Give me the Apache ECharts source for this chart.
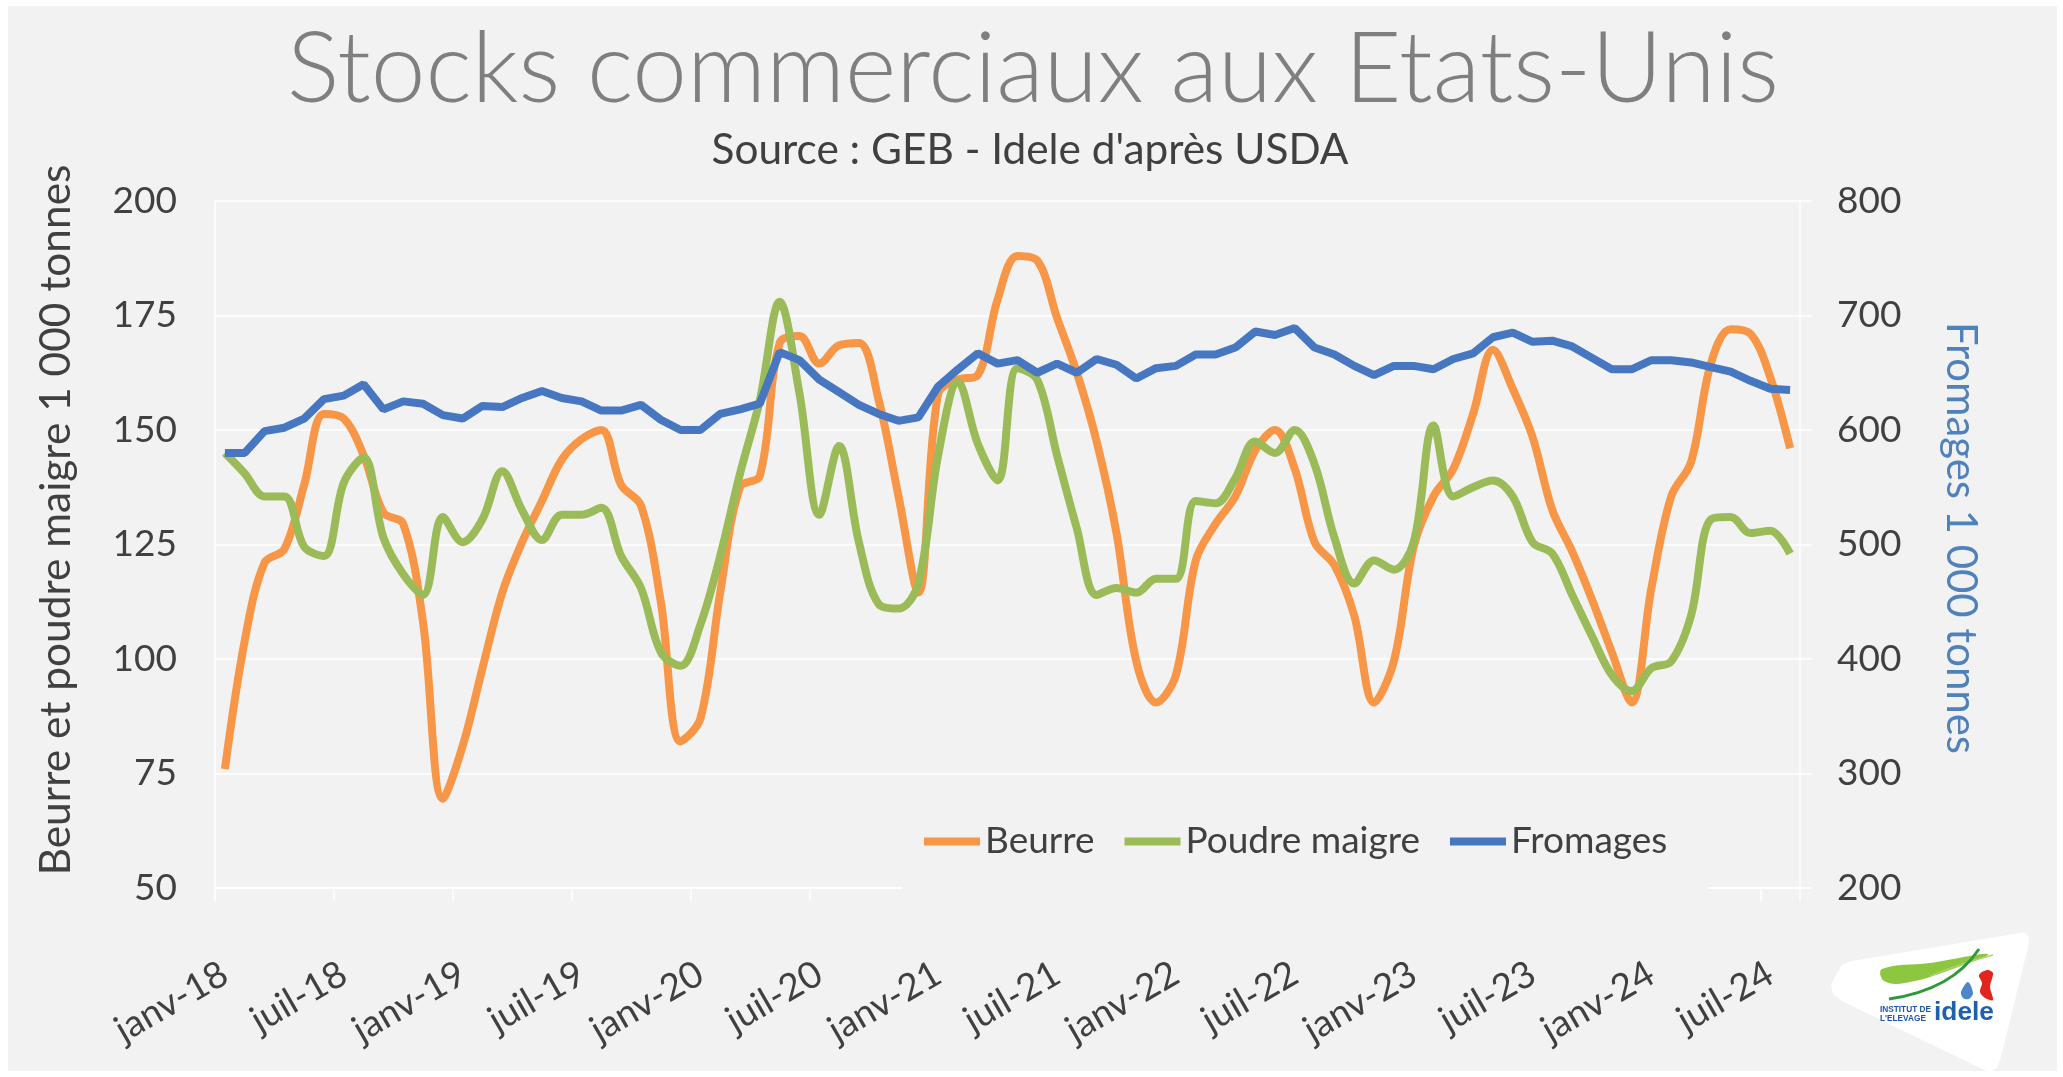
<!DOCTYPE html>
<html>
<head>
<meta charset="utf-8">
<title>Stocks commerciaux aux Etats-Unis</title>
<script src="https://cdn.jsdelivr.net/npm/echarts@6/dist/echarts.min.js"></script>
<style>
  html, body { margin: 0; padding: 0; background: #ffffff; overflow: hidden; }
  #frame { position: absolute; left: 8px; top: 6px; width: 2049px; height: 1065px; background: #f2f2f2; }
  #chart { position: absolute; left: 0; top: 0; width: 2063px; height: 1077px; }
</style>
</head>
<body>
<div id="frame"></div>
<div id="chart"></div>
<script>
// Month labels (janv-18 ... août-24)
const monthNames = ['janv', 'févr', 'mars', 'avr', 'mai', 'juin', 'juil', 'août', 'sept', 'oct', 'nov', 'déc'];
const yearLabels = ['18', '19', '20', '21', '22', '23', '24'];
const monthsInLastYear = 8;

// Butter stocks, 1 000 t (left axis)
const beurre = [
  76, 104, 121, 124, 138, 153.5, 152.5, 144.5, 132, 129.5, 108, 69.5,
  81, 98, 114.5, 125.5, 134.5, 143.5, 148, 150, 138, 133.5, 112.5, 82,
  87, 114.5, 137.5, 140, 169, 170.5, 164.5, 168.5, 169, 156.5, 135.5, 114.5,
  158, 161, 162, 178.5, 188, 187, 174.5, 162.5, 147.5, 127.5, 99.5, 90.5,
  96.5, 121.5, 129.5, 135.5, 145.5, 150, 141.5, 125.5, 120.5, 109.5, 90.5, 99.5,
  124.5, 135.5, 141.5, 153.5, 167.5, 159, 148.5, 132.5, 123.5, 113, 101.5, 90.5,
  115.5, 135.5, 143, 164.5, 172, 171, 161.5, 146
];

// Skim milk powder stocks, 1 000 t (left axis)
const poudre = [
  145, 140.5, 135.5, 135.5, 124.5, 122.5, 138.5, 144, 126.5, 118.5, 114, 131,
  125.5, 130.5, 141, 132.5, 126, 131.5, 131.5, 133, 122.5, 115.5, 101.5, 98.5,
  107.5, 122.5, 140.5, 156.5, 178, 158, 131.5, 146.5, 125.5, 112, 111, 116.5,
  144.5, 160.5, 147, 139, 163.5, 161, 144.5, 128.5, 114, 115.5, 114.5, 117.5,
  117.5, 134.5, 134, 139.5, 147.5, 145, 150, 142.5, 126.5, 116.5, 121.5, 119.5,
  125.5, 151, 135.5, 137.5, 139, 135.5, 125.5, 123, 114, 105, 96.5, 93,
  98, 99.5, 109.5, 130.5, 131, 127.5, 128, 123
];

// Cheese stocks, 1 000 t (right axis)
const fromages = [
  580, 580, 599, 602, 610, 627, 630, 640, 618, 625, 623, 613,
  610, 621, 620, 628, 634, 628, 625, 617, 617, 622, 609, 600,
  600, 614, 618, 623, 668, 661, 644, 633, 622, 614, 608, 611,
  638, 653, 667, 658, 661, 650, 658, 650, 662, 657, 645, 654,
  656, 666, 666, 672, 686, 683, 689, 672, 666, 656, 648, 656,
  656, 653, 662, 667, 681, 685, 677, 678, 673, 663, 653, 653,
  661, 661, 659, 655, 651, 643, 636, 635
];

// Axis scales
const leftTicks = { min: 50, max: 200, step: 25 };
const rightTicks = { min: 200, max: 800, step: 100 };

// Texts
const titleText = 'Stocks commerciaux aux Etats-Unis';
const subtitleText = "Source : GEB - Idele d'après USDA";
const leftAxisName = 'Beurre et poudre maigre 1 000 tonnes';
const rightAxisName = 'Fromages 1 000 tonnes';
const seriesNames = ['Beurre', 'Poudre maigre', 'Fromages'];

const categories = [];
yearLabels.forEach((y, yi) => {
  const n = yi === yearLabels.length - 1 ? monthsInLastYear : 12;
  for (let m = 0; m < n; m++) categories.push(monthNames[m] + '-' + y);
});

// ---- styling ----
const FONT = 'Lato';
const DARK = '#404040';
const ORANGE = '#F79646';
const GREEN = '#9BBB59';
const BLUE = '#4677C0';

// scale a text's font size so that it spans the given width
function fitSize(text, weight, width, family) {
  const ctx = document.createElement('canvas').getContext('2d');
  ctx.font = weight + ' 100px ' + (family || FONT);
  return 100 * width / ctx.measureText(text).width;
}
const titleSize = fitSize(titleText, 300, 1492);
const subtitleSize = fitSize(subtitleText, 'normal', 637);
const leftNameSize = fitSize(leftAxisName, 'normal', 711);
const rightNameSize = fitSize(rightAxisName, 'normal', 432);
const logoSmallSize = fitSize('INSTITUT DE', 'bold', 51, 'Liberation Sans');
const logoBigSize = fitSize('idele', 'bold', 60, 'Liberation Sans');

const chart = echarts.init(document.getElementById('chart'), null, { renderer: 'canvas' });

// institute logo in the lower right corner
const logo = {
  type: 'group',
  children: [
    { type: 'polygon', shape: { points: [
        [1836, 975], [1842, 965], [1852, 961], [2014, 934], [2024, 932], [2029, 937], [2028, 947],
        [2001, 1057], [1997, 1068], [1990, 1072], [1980, 1068], [1842, 1001], [1833, 994], [1831, 985]
      ] }, style: { fill: '#ffffff' } },
    { type: 'polygon', shape: { points: [[1882, 969], [1930, 963], [1988, 954], [1950, 970], [1905, 983], [1884, 981]], smooth: 0.4 },
      style: { fill: '#8DC63F' } },
    { type: 'bezierCurve', shape: { x1: 1930, y1: 976, cpx1: 1962, cpy1: 963, x2: 1993, y2: 955 },
      style: { stroke: '#A9D46A', lineWidth: 1.5, fill: null } },
    { type: 'bezierCurve', shape: { x1: 1889, y1: 999, cpx1: 1952, cpy1: 990, x2: 1979, y2: 949 },
      style: { stroke: '#2F9A3B', lineWidth: 3, fill: null } },
    { type: 'polygon', shape: { points: [[1979, 975], [1987, 970], [1993, 973], [1990, 987], [1993, 1000], [1985, 998], [1980, 992], [1982, 983]], smooth: 0.3 },
      style: { fill: '#E2261D' } },
    { type: 'polygon', shape: { points: [[1968, 982], [1961, 992], [1963, 998], [1969, 999], [1973, 993]], smooth: 0.3 },
      style: { fill: '#4A86C8' } },
    { type: 'text', x: 1880, y: 1009.5, style: { text: 'INSTITUT DE', fontFamily: 'Liberation Sans', fontWeight: 'bold', fontSize: logoSmallSize, fill: '#1F56A5', verticalAlign: 'middle' } },
    { type: 'text', x: 1880, y: 1019, style: { text: "L'ELEVAGE", fontFamily: 'Liberation Sans', fontWeight: 'bold', fontSize: logoSmallSize, fill: '#1F56A5', verticalAlign: 'middle' } },
    { type: 'text', x: 1934, y: 1013, style: { text: 'idele', fontFamily: 'Liberation Sans', fontWeight: 'bold', fontSize: logoBigSize, fill: '#1F5FB0', verticalAlign: 'middle' } }
  ]
};

const option = {
  animation: false,
  textStyle: { fontFamily: FONT },
  grid: { left: 215, right: 263, top: 201, bottom: 189, containLabel: false },
  legend: {
    data: seriesNames,
    left: 902,
    top: 803,
    padding: [20, 41, 42, 22],
    backgroundColor: '#f2f2f2',
    icon: 'rect',
    itemWidth: 56,
    itemHeight: 8,
    itemGap: 30,
    selectedMode: false,
    z: 10,
    textStyle: { fontSize: 37, color: DARK, fontFamily: FONT }
  },
  graphic: [
    { type: 'text', x: 1033, y: 70, style: { text: titleText, fontFamily: FONT, fontWeight: 300, fontSize: titleSize, fill: '#7f7f7f', align: 'center', verticalAlign: 'middle' } },
    { type: 'text', x: 1030, y: 150, style: { text: subtitleText, fontFamily: FONT, fontSize: subtitleSize, fill: DARK, align: 'center', verticalAlign: 'middle' } },
    { type: 'text', x: 56, y: 520, rotation: Math.PI / 2, style: { text: leftAxisName, fontFamily: FONT, fontSize: leftNameSize, fill: DARK, align: 'center', verticalAlign: 'middle' } },
    { type: 'text', x: 1961, y: 538, rotation: -Math.PI / 2, style: { text: rightAxisName, fontFamily: FONT, fontSize: rightNameSize, fill: '#4F81BD', align: 'center', verticalAlign: 'middle' } },
    logo
  ],
  xAxis: {
    type: 'category',
    data: categories,
    boundaryGap: true,
    axisLine: { show: true, onZero: false, lineStyle: { color: '#ffffff', width: 1.5 } },
    axisTick: { show: true, interval: 5, alignWithLabel: false, length: 13, lineStyle: { color: '#ffffff', width: 1.5 } },
    axisLabel: { interval: 5, rotate: 30, margin: 83, fontSize: 37, color: DARK, fontFamily: FONT, hideOverlap: false },
    splitLine: { show: false }
  },
  yAxis: [
    {
      type: 'value', position: 'left',
      min: leftTicks.min, max: leftTicks.max, interval: leftTicks.step,
      axisLine: { show: true, lineStyle: { color: '#ffffff', width: 1.5 } },
      axisTick: { show: false },
      axisLabel: { margin: 38, fontSize: 37, color: DARK, fontFamily: FONT },
      splitLine: { show: true, lineStyle: { color: '#ffffff', width: 1.5 } }
    },
    {
      type: 'value', position: 'right',
      min: rightTicks.min, max: rightTicks.max, interval: rightTicks.step,
      axisLine: { show: true, lineStyle: { color: '#ffffff', width: 1.5 } },
      axisTick: { show: true, length: 12, lineStyle: { color: '#ffffff', width: 1.5 } },
      axisLabel: { margin: 37, fontSize: 37, color: DARK, fontFamily: FONT },
      splitLine: { show: false }
    }
  ],
  series: [
    { name: seriesNames[0], type: 'line', yAxisIndex: 0, data: beurre, smooth: 0.35, symbol: 'none',
      lineStyle: { width: 8, color: ORANGE }, itemStyle: { color: ORANGE }, z: 2 },
    { name: seriesNames[1], type: 'line', yAxisIndex: 0, data: poudre, smooth: 0.35, symbol: 'none',
      lineStyle: { width: 8, color: GREEN }, itemStyle: { color: GREEN }, z: 3 },
    { name: seriesNames[2], type: 'line', yAxisIndex: 1, data: fromages, smooth: false, symbol: 'none',
      lineStyle: { width: 8, color: BLUE }, itemStyle: { color: BLUE }, z: 4 }
  ]
};

chart.setOption(option);
</script>
</body>
</html>
